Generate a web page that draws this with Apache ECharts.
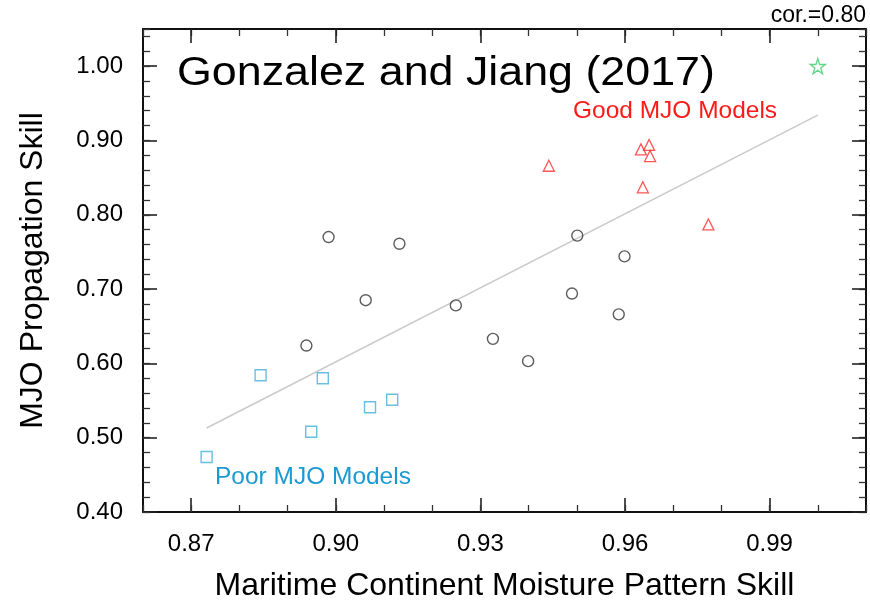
<!DOCTYPE html>
<html>
<head>
<meta charset="utf-8">
<script src="https://cdn.jsdelivr.net/npm/echarts@6/dist/echarts.min.js"></script>
<style>
  html, body { margin: 0; padding: 0; background: #fff; }
  #chart { width: 870px; height: 607px; }
</style>
</head>
<body>
<div id="chart"></div>
<script>
// values: [moisture pattern skill, propagation skill]
var otherModels = [
    [0.8985, 0.770], [0.9132, 0.761], [0.9062, 0.685], [0.9249, 0.678],
    [0.9326, 0.633], [0.8939, 0.624], [0.9501, 0.772], [0.9599, 0.744],
    [0.9490, 0.694], [0.9587, 0.666], [0.9399, 0.603]
];
var goodModels = [
    [0.9442, 0.866], [0.9633, 0.888], [0.9650, 0.894], [0.9652, 0.879],
    [0.9637, 0.837], [0.9773, 0.787]
];
var poorModels = [
    [0.8844, 0.584], [0.8973, 0.580], [0.9117, 0.551], [0.9071, 0.541],
    [0.8949, 0.508], [0.8732, 0.474]
];
var reference = [[1.000, 1.000]];
var fitLine = [[0.8732, 0.513], [1.000, 0.934]];

var xMajor = [0.87, 0.90, 0.93, 0.96, 0.99];
var yMajor = [0.40, 0.50, 0.60, 0.70, 0.80, 0.90, 1.00];

var font = '"Liberation Sans", Arial, Helvetica, sans-serif';
var starPath = 'path://M50,0 L61.8,35.1 L97.6,34.5 L69,56.4 L79.4,90.5 L50,70 L20.6,90.5 L31,56.4 L2.4,34.5 L38.2,35.1 Z';

function minorAxis(pos, min, max, step, len) {
    return {
        type: 'value', position: pos, min: min, max: max, interval: step,
        axisLine: {show: true, lineStyle: {color: '#111', width: 2}},
        axisTick: {show: true, inside: true, length: len, lineStyle: {color: '#333', width: 1.3}},
        axisLabel: {show: false},
        splitLine: {show: false}
    };
}

function majorAxis(pos, min, max, ticks, len, labels) {
    return {
        type: 'value', position: pos, min: min, max: max,
        axisLine: {show: false},
        axisTick: {show: true, inside: true, length: len, customValues: ticks,
            lineStyle: {color: '#222', width: 1.6}},
        axisLabel: labels ? {
            show: true, customValues: ticks, color: '#000', fontSize: 24,
            fontFamily: font, margin: 20,
            formatter: function (v) { return v.toFixed(2); }
        } : {show: false},
        splitLine: {show: false}
    };
}

var xBottom = majorAxis('bottom', 0.86, 1.01, xMajor, 14, true);
xBottom.name = 'Maritime Continent Moisture Pattern Skill';
xBottom.nameLocation = 'middle';
xBottom.nameGap = 58;
xBottom.nameTextStyle = {fontSize: 32, fontFamily: font, color: '#000'};

var yLeft = majorAxis('left', 0.40, 1.05, yMajor, 14, true);
yLeft.name = 'MJO Propagation Skill';
yLeft.nameLocation = 'middle';
yLeft.nameGap = 94;
yLeft.nameTextStyle = {fontSize: 32, fontFamily: font, color: '#000'};

var option = {
    backgroundColor: '#fff',
    animation: false,
    grid: {left: 143, right: 4, top: 29, bottom: 94},
    xAxis: [
        xBottom,
        minorAxis('bottom', 0.86, 1.01, 0.01, 7),
        minorAxis('top', 0.86, 1.01, 0.01, 7),
        majorAxis('top', 0.86, 1.01, xMajor, 14, false)
    ],
    yAxis: [
        yLeft,
        minorAxis('left', 0.40, 1.05, 0.02, 7),
        minorAxis('right', 0.40, 1.05, 0.02, 7),
        majorAxis('right', 0.40, 1.05, yMajor, 14, false)
    ],
    graphic: [{
        type: 'text', left: 177, top: 54, scaleX: 1.12,
        style: {text: 'Gonzalez and Jiang (2017)', fontSize: 40, fontFamily: font, fill: '#000'}
    }, {
        type: 'text', left: 573, top: 99, scaleX: 1.02,
        style: {text: 'Good MJO Models', fontSize: 24, fontFamily: font, fill: '#ff1a1a'}
    }, {
        type: 'text', left: 215, top: 465, scaleX: 1.02,
        style: {text: 'Poor MJO Models', fontSize: 24, fontFamily: font, fill: '#1b9ad2'}
    }, {
        type: 'text', right: 4, top: 4,
        style: {text: 'cor.=0.80', fontSize: 23, fontFamily: font, fill: '#000'}
    }],
    series: [{
        type: 'line',
        data: fitLine,
        symbol: 'none',
        lineStyle: {color: '#cacaca', width: 1.5},
        z: 1
    }, {
        type: 'scatter',
        data: otherModels,
        symbol: 'circle',
        symbolSize: 11,
        itemStyle: {color: 'rgba(255,255,255,0)', borderColor: '#333', borderWidth: 1.4}
    }, {
        type: 'scatter',
        data: goodModels,
        symbol: 'triangle',
        symbolSize: 11,
        itemStyle: {color: 'rgba(255,255,255,0)', borderColor: '#ff2a2a', borderWidth: 1.3}
    }, {
        type: 'scatter',
        data: poorModels,
        symbol: 'rect',
        symbolSize: 11,
        itemStyle: {color: 'rgba(255,255,255,0)', borderColor: '#45aedc', borderWidth: 1.4}
    }, {
        type: 'scatter',
        data: reference,
        symbol: starPath,
        symbolSize: 15,
        itemStyle: {color: 'rgba(255,255,255,0)', borderColor: '#3dcc6a', borderWidth: 1.4}
    }]
};

var chart = echarts.init(document.getElementById('chart'));
chart.setOption(option);
</script>
</body>
</html>
